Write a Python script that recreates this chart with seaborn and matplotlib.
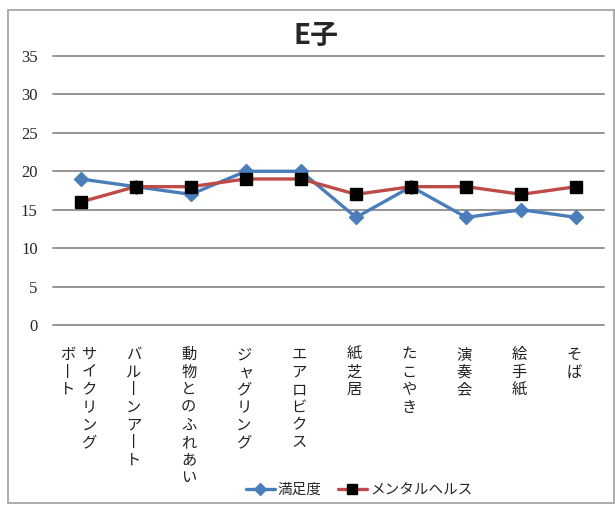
import numpy as np
import pandas as pd
import matplotlib
matplotlib.use("Agg")
import matplotlib.pyplot as plt
from matplotlib.patches import Rectangle
from matplotlib.lines import Line2D
import seaborn as sns

# Activities and scores for E子
categories = ["サイクリングボート", "バルーンアート", "動物とのふれあい", "ジャグリング",
              "エアロビクス", "紙芝居", "たこやき", "演奏会", "絵手紙", "そば"]
satisfaction = [19, 18, 17, 20, 20, 14, 18, 14, 15, 14]
mental_health = [16, 18, 18, 19, 19, 17, 18, 18, 17, 18]
series_names = ["満足度", "メンタルヘルス"]
y_ticks = [0, 5, 10, 15, 20, 25, 30, 35]
title = "E子"
# where a vertical label breaks into a second column
label_columns = {"サイクリングボート": ["サイクリング", "ボート"]}

sns.set_style("white")
plt.rcParams["font.family"] = ["Noto Sans CJK JP", "DejaVu Sans"]

BLUE = "#4a7ebb"
RED = "#be4b48"
GRID = "#8c8c8c"

W, H = 615, 505
fig = plt.figure(figsize=(W / 100, H / 100), dpi=100)
ax = fig.add_axes([53 / W, 1 - 325 / H, (604 - 53) / W, (325 - 56) / H])

df = pd.DataFrame({
    "pos": list(range(len(categories))) * 2,
    "value": satisfaction + mental_health,
    "series": [series_names[0]] * len(categories) + [series_names[1]] * len(categories),
})

styles = {
    series_names[0]: dict(color=BLUE, marker="D", markersize=7,
                          markerfacecolor=BLUE, markeredgecolor=BLUE),
    series_names[1]: dict(color=RED, marker="s", markersize=9,
                          markerfacecolor="black", markeredgecolor="black"),
}
for name in series_names:
    sub = df[df["series"] == name]
    sns.lineplot(data=sub, x="pos", y="value", ax=ax, linewidth=2.4,
                 legend=False, markeredgewidth=1, **styles[name])

ax.set_xlim(-0.5, len(categories) - 0.5)
ax.set_ylim(0, 35)
ax.set_yticks(y_ticks)
ax.set_yticklabels([str(t) for t in y_ticks], family="Liberation Serif", fontsize=12)
ax.tick_params(axis="y", length=0, pad=11)
ax.set_xticks([])
ax.set_xlabel("")
ax.set_ylabel("")
ax.grid(axis="y", color=GRID, linewidth=1.3)
ax.grid(axis="x", visible=False)
for sp in ax.spines.values():
    sp.set_visible(False)
for gl in ax.get_ygridlines():
    gl.set_clip_on(False)

# vertical (tategaki) category labels, one character per row
px = 72 / 100
small_kana = set("ャュョッァィゥェォ")
for i, cat in enumerate(categories):
    cols = label_columns.get(cat, [cat])
    n = len(cols)
    for k, col in enumerate(cols):
        dx = -2 - (k - (n - 1) / 2) * 21
        for j, ch in enumerate(col):
            glyph = "丨" if ch == "ー" else ch
            ox, oy = dx, -(29.5 + j * 17.6)
            if ch in small_kana:
                ox += 2
            ax.annotate(glyph, xy=(i, 0), xycoords=ax.get_xaxis_transform(),
                        xytext=(ox * px, oy * px), textcoords="offset points",
                        ha="center", va="center", fontsize=11, color="#222222",
                        annotation_clip=False)

fig.text(316 / W, 1 - 35.5 / H, title, ha="center", va="center",
         fontsize=20, fontweight="bold")

handles = [
    Line2D([], [], color=BLUE, lw=2.4, marker="D", markersize=6,
           markerfacecolor=BLUE, markeredgecolor=BLUE),
    Line2D([], [], color=RED, lw=2.4, marker="s", markersize=7,
           markerfacecolor="black", markeredgecolor="black"),
]
fig.legend(handles, series_names, loc="center", bbox_to_anchor=(359 / W, 1 - 490 / H),
           ncol=2, frameon=False, fontsize=10.5, handlelength=2.0,
           handletextpad=0.2, columnspacing=1.1)

fig.add_artist(Rectangle((8 / W, 1 - 503 / H), 606 / W, 493 / H,
                         transform=fig.transFigure, fill=False,
                         edgecolor="#a6a6a6", linewidth=1.3))

fig.savefig("out.png", dpi=100)
